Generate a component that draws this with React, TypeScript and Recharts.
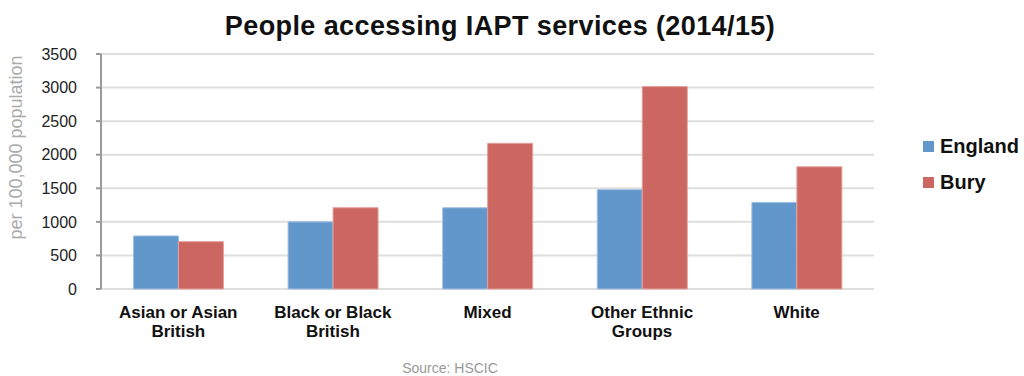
import React from 'react';
import { BarChart, Bar, XAxis, YAxis, CartesianGrid } from 'recharts';

const categories = ['Asian or Asian British', 'Black or Black British', 'Mixed', 'Other Ethnic Groups', 'White'];
const england = [790, 1000, 1210, 1480, 1290];
const bury = [705, 1210, 2170, 3015, 1820];
const yTicks = [0, 500, 1000, 1500, 2000, 2500, 3000, 3500];

const series = [
  { key: 'england', name: 'England', color: '#6297CB', edge: '#9fbfe2' },
  { key: 'bury', name: 'Bury', color: '#CC6660', edge: '#e3a19c' },
];

const chartData = categories.map((name, i) => ({ name, england: england[i], bury: bury[i] }));
const edgeTicks = categories.map((_, i) => i).concat(categories.length);

const FONT = '"Liberation Sans", Arial, Helvetica, sans-serif';
const AXIS = '#9a9a9a';

function wrapLabel(text: string): string[] {
  const map: Record<string, string[]> = {
    'Asian or Asian British': ['Asian or Asian', 'British'],
    'Black or Black British': ['Black or Black', 'British'],
    'Other Ethnic Groups': ['Other Ethnic', 'Groups'],
  };
  return map[text] || [text];
}

function CategoryTick(props: any) {
  const { x, y, payload } = props;
  const lines = wrapLabel(payload.value);
  return (
    <text x={x} y={y} textAnchor="middle" fontFamily={FONT} fontSize={17} fontWeight="bold" fill="#111">
      {lines.map((l, i) => (
        <tspan key={i} x={x} dy={i === 0 ? 21 : 19}>{l}</tspan>
      ))}
    </text>
  );
}

export default function App() {
  return (
    <div style={{ position: 'relative', width: 1024, height: 376, background: '#fff' }}>
      <style>{'body{margin:0}'}</style>
      <div style={{ position: 'absolute', left: 0, top: 10, width: 1000, textAlign: 'center', fontFamily: FONT, fontSize: 27, fontWeight: 'bold', letterSpacing: 0.4, lineHeight: '32px', color: '#111' }}>
        People accessing IAPT services (2014/15)
      </div>
      <BarChart
        width={1024}
        height={376}
        data={chartData}
        margin={{ top: 54, right: 150, left: 0, bottom: 37 }}
        barCategoryGap="21%"
        barGap={0}
      >
        <CartesianGrid xAxisId="cat" vertical={false} stroke="#dedede" strokeWidth={2} />
        <XAxis xAxisId="edge" type="number" domain={[0, categories.length]} ticks={edgeTicks} tick={false} tickSize={5} height={0} stroke={AXIS} strokeWidth={2} />
        <XAxis xAxisId="cat" dataKey="name" axisLine={false} tickLine={false} tick={<CategoryTick />} height={50} interval={0} />
        <YAxis
          domain={[0, 3500]}
          ticks={yTicks}
          width={101}
          tickSize={5}
          tickMargin={19}
          stroke={AXIS}
          strokeWidth={2}
          tick={{ fill: '#222', fontSize: 16, fontFamily: FONT }}
          label={{ value: 'per 100,000 population', angle: -90, position: 'center', dx: -35, dy: -24, fill: '#aaa', fontSize: 18, fontFamily: FONT }}
        />
        {series.map((s) => (
          <Bar key={s.key} xAxisId="cat" dataKey={s.key} name={s.name} fill={s.color} stroke={s.edge} strokeWidth={1} isAnimationActive={false} />
        ))}
      </BarChart>
      <div style={{ position: 'absolute', left: 923, top: 128, fontFamily: FONT }}>
        {series.map((s) => (
          <div key={s.key} style={{ display: 'flex', alignItems: 'center', height: 36 }}>
            <span style={{ width: 11, height: 11, background: s.color, marginRight: 6 }} />
            <span style={{ fontSize: 20, fontWeight: 'bold', color: '#111' }}>{s.name}</span>
          </div>
        ))}
      </div>
      <div style={{ position: 'absolute', left: 0, top: 359, width: 900, textAlign: 'center', fontFamily: FONT, fontSize: 14, lineHeight: '18px', color: '#999' }}>
        Source: HSCIC
      </div>
    </div>
  );
}
